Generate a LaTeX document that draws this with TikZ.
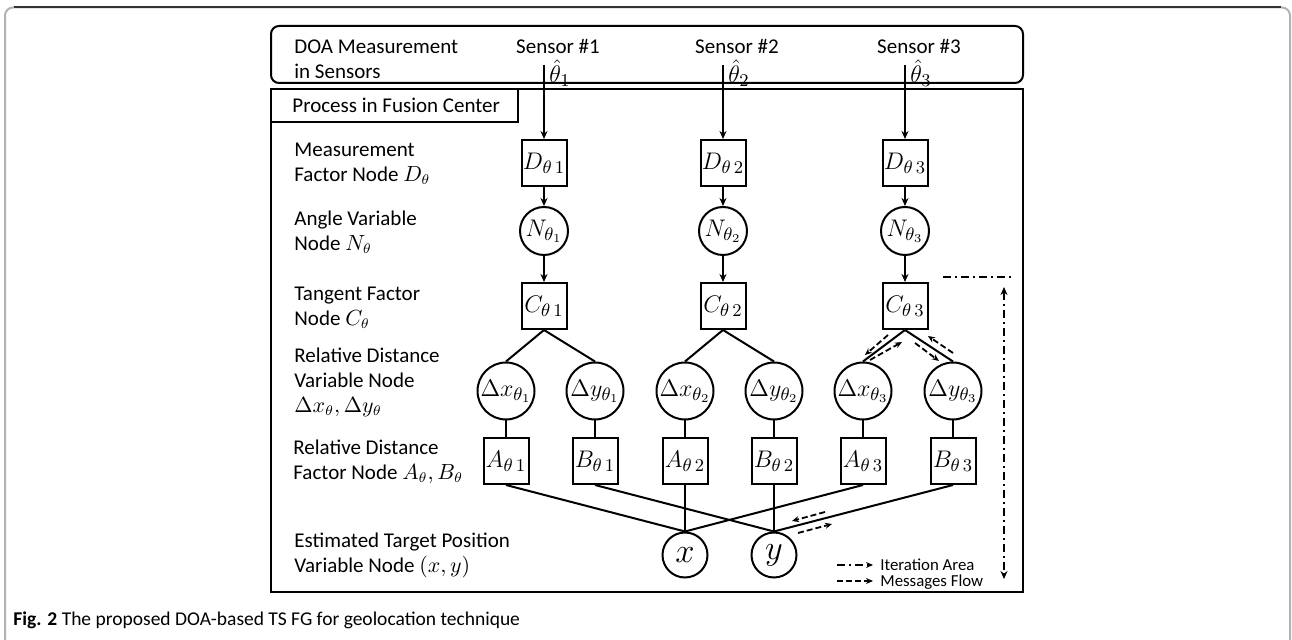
\documentclass[tikz,border=0pt]{standalone}
\usepackage{fontspec}
\setmainfont{Carlito}
\usetikzlibrary{arrows.meta}
\begin{document}
\begin{tikzpicture}[x=0.5pt,y=-0.5pt,
  fbox/.style={draw, line width=1pt, minimum width=22.5pt, minimum height=23pt, inner sep=0pt, font=\fontsize{12.5}{15}\selectfont},
  vcirc/.style={draw, circle, line width=1pt, minimum size=24pt, inner sep=0pt, font=\fontsize{12.5}{15}\selectfont},
  dcirc/.style={vcirc, minimum size=28.5pt},
  pcirc/.style={vcirc, minimum size=22.5pt, font=\fontsize{17}{19}\selectfont},
  lbl/.style={anchor=west, align=left, inner sep=0pt, font=\fontsize{10.5}{12.5}\selectfont},
  edge/.style={line width=1pt},
  arr/.style={line width=1pt, -{Stealth[length=4pt,width=3.5pt]}},
  msg/.style={line width=0.9pt, dash pattern=on 3pt off 1.5pt, -{Stealth[length=3.5pt,width=3pt]}},
  iter/.style={line width=0.9pt, dash pattern=on 4pt off 2pt on 1pt off 2pt},
]
\useasboundingbox (0,0) rectangle (1292,640);
% outer frame
\draw[gray!60, line width=1pt, rounded corners=4pt] (5,641) -- (5,7.5) -- (1290,7.5) -- (1290,641);
\draw[black!80, line width=1pt] (14,7.5) -- (1281,7.5);
% boxes
\draw[line width=1pt, rounded corners=4pt] (271,26) rectangle (1023,83);
\draw[line width=1pt] (271,89) rectangle (1023,592);
\draw[line width=1pt] (271,89) rectangle (518,122);
\node[lbl] (ptitle) at (292,105.5) {Process in Fusion Center};
\node[lbl] (doalbl) at (294,59.5) {DOA Measurement\\in Sensors};
% row labels
\node[lbl] (l1) at (294,163.5) {Measurement\\Factor Node $D_\theta$};
\node[lbl] (l2) at (294,232.5) {Angle Variable\\Node $N_\theta$};
\node[lbl] (l3) at (294,307.5) {Tangent Factor\\Node $C_\theta$};
\node[lbl] (l4) at (294,382.5) {Relative Distance\\Variable Node\\$\Delta x_\theta,\Delta y_\theta$};
\node[lbl] (l5) at (293,461.5) {Relative Distance\\Factor Node $A_\theta,B_\theta$};
\node[lbl] (l6) at (294,555.5) {Estimated Target Position\\Variable Node $(x,y)$};
% columns
\foreach \cx/\i in {544/1,723/2,905/3} {
  \node[font=\fontsize{10.5}{12.5}\selectfont, inner sep=0pt] (S\i) at (\cx+14,46) {Sensor \#\i};
  \node[anchor=west, inner sep=0pt, font=\fontsize{13}{15}\selectfont] (T\i) at (\cx+5,73) {$\hat\theta_\i$};
  \coordinate (s\i) at (\cx,65);
  \node[fbox] (D\i) at (\cx,163) {\makebox[0pt]{$D_{\theta\,\i}$}};
  \node[vcirc] (N\i) at (\cx,231) {\makebox[0pt]{$N_{\theta_\i}$}};
  \node[fbox] (C\i) at (\cx,306) {\makebox[0pt]{$C_{\theta\,\i}$}};
  \draw[arr] (s\i) -- (D\i);
  \draw[arr] (D\i) -- (N\i);
  \draw[arr] (N\i) -- (C\i);
}
\foreach \ax/\bx/\i in {506/595/1,685/774/2,863/953/3} {
  \node[dcirc] (dx\i) at (\ax,391) {\makebox[0pt]{$\Delta x_{\theta_\i}$}};
  \node[dcirc] (dy\i) at (\bx,391) {\makebox[0pt]{$\Delta y_{\theta_\i}$}};
  \node[fbox] (A\i) at (\ax,461) {\makebox[0pt]{$A_{\theta\,\i}$}};
  \node[fbox] (B\i) at (\bx,461) {\makebox[0pt]{$B_{\theta\,\i}$}};
  \draw[edge] (C\i.south) -- (dx\i.north);
  \draw[edge] (C\i.south) -- (dy\i.north);
  \draw[edge] (dx\i) -- (A\i);
  \draw[edge] (dy\i) -- (B\i);
}
\node[pcirc] (px) at (685,555) {$x$};
\node[pcirc] (py) at (774,555) {$y$};
\foreach \i in {1,2,3} {
  \draw[edge] (A\i.south) -- (px.north);
  \draw[edge] (B\i.south) -- (py.north);
}
% message flow arrows
\draw[msg] (888,335) -- (865,355);
\draw[msg] (870,360) -- (902,342);
\draw[msg] (915,343) -- (939,361);
\draw[msg] (953,353) -- (928,336);
\draw[msg] (825,512) -- (792,521);
\draw[msg] (798,533) -- (832,524);
% iteration area
\draw[iter] (943,277) -- (1014,277);
\draw[iter, {Stealth[length=4pt,width=3.5pt]}-{Stealth[length=4pt,width=3.5pt]}] (1004,287) -- (1004,579);
% legend
\draw[iter, -{Stealth[length=3.5pt,width=3pt]}] (837,565) -- (873,565);
\node[anchor=west, inner sep=0pt, font=\fontsize{8.4}{10}\selectfont] (leg1) at (880,565) {Iteration Area};
\draw[msg] (837,581) -- (873,581);
\node[anchor=west, inner sep=0pt, font=\fontsize{8.4}{10}\selectfont] (leg2) at (880,582) {Messages Flow};
% caption
\node[anchor=west, inner sep=0pt, font=\fontsize{9.75}{12}\selectfont] (cap) at (13,620) {\textbf{Fig. 2} The proposed DOA-based TS FG for geolocation technique};
\end{tikzpicture}
\end{document}
